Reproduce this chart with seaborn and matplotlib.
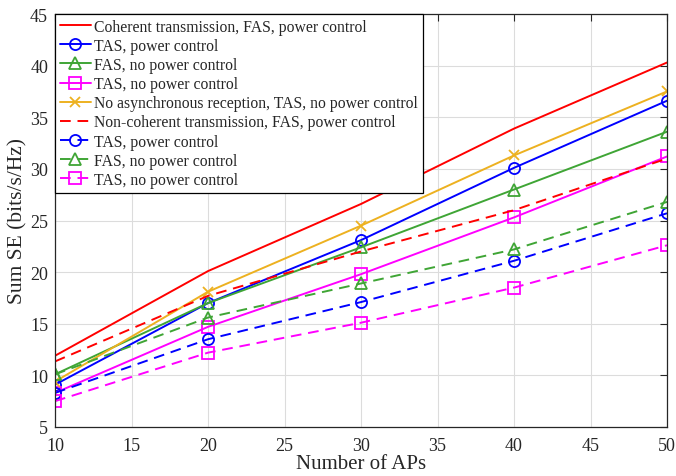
import matplotlib
matplotlib.use("Agg")
import matplotlib.pyplot as plt
import seaborn as sns
import pandas as pd

aps = [10, 20, 30, 40, 50]

coherent_fas_pc = [11.9, 20.1, 26.6, 33.9, 40.3]
coherent_tas_pc = [9.1, 17.0, 23.1, 30.1, 36.6]
coherent_fas_npc = [10.1, 17.0, 22.4, 28.0, 33.6]
coherent_tas_npc = [8.3, 14.7, 19.8, 25.3, 31.2]
no_async_tas_npc = [9.4, 18.1, 24.5, 31.3, 37.5]
noncoh_fas_pc = [11.35, 17.7, 22.0, 26.0, 31.0]
noncoh_tas_pc = [8.3, 13.5, 17.1, 21.1, 25.7]
noncoh_fas_npc = [10.1, 15.6, 18.9, 22.2, 26.8]
noncoh_tas_npc = [7.5, 12.2, 15.1, 18.5, 22.6]

labels = [
    "Coherent transmission, FAS, power control",
    "TAS, power control",
    "FAS, no power control",
    "TAS, no power control",
    "No asynchronous reception, TAS, no power control",
    "Non-coherent transmission, FAS, power control",
    "TAS, power control",
    "FAS, no power control",
    "TAS, no power control",
]
series = [coherent_fas_pc, coherent_tas_pc, coherent_fas_npc, coherent_tas_npc,
          no_async_tas_npc, noncoh_fas_pc, noncoh_tas_pc, noncoh_fas_npc, noncoh_tas_npc]

RED, BLUE, GREEN, MAG, ORANGE = "#FF0000", "#0000FF", "#3FA535", "#FF00FF", "#EDB120"
DASH = (0, (5.5, 3.5))
styles = [
    (RED, "-", None),
    (BLUE, "-", "o"),
    (GREEN, "-", "^"),
    (MAG, "-", "s"),
    (ORANGE, "-", "x"),
    (RED, DASH, None),
    (BLUE, DASH, "o"),
    (GREEN, DASH, "^"),
    (MAG, DASH, "s"),
]

sns.set_theme(style="whitegrid")
plt.rcParams["font.family"] = ["Liberation Serif", "DejaVu Serif"]
plt.rcParams["mathtext.fontset"] = "stix"

fig = plt.figure(figsize=(6.76, 4.77), dpi=100)
ax = fig.add_axes([55 / 676, 49 / 477, 612 / 676, 413 / 477])

for vals, lab, (c, ls, mk) in zip(series, labels, styles):
    df = pd.DataFrame({"x": aps, "y": vals})
    sns.lineplot(data=df, x="x", y="y", ax=ax, color=c, linestyle=ls,
                 marker=mk if mk else None, markersize=8 if mk != "x" else 7,
                 markerfacecolor="none" if mk and mk != "x" else c,
                 markeredgecolor=c, markeredgewidth=1.3, linewidth=1.4,
                 label=lab)

ax.set_xlim(10, 50)
ax.set_ylim(5, 45)
ax.set_xticks(range(10, 51, 5))
ax.set_yticks(range(5, 46, 5))
ax.set_xlabel("Number of APs", fontsize=15)
ax.xaxis.set_label_coords(0.5, -0.066)
ax.set_ylabel("Sum SE (bits/s/Hz)", fontsize=15.5, labelpad=2)
ax.tick_params(axis="both", labelsize=13, direction="in", length=5, width=0.8,
               top=True, right=True, colors="#262626")
ax.tick_params(axis="x", pad=7)
ax.tick_params(axis="y", pad=5)
ax.grid(True, color="#DCDCDC", linewidth=0.8)
for s in ax.spines.values():
    s.set_color("#262626")
    s.set_linewidth(0.9)

leg = ax.legend(loc="upper left", bbox_to_anchor=(0, 1), borderaxespad=0,
                fontsize=11.3, frameon=True, fancybox=False, framealpha=1,
                edgecolor="black", handlelength=2.0, handletextpad=0.2,
                labelspacing=0.2, borderpad=0.3)
leg.get_frame().set_linewidth(0.9)

fig.savefig("out.png", dpi=100)
